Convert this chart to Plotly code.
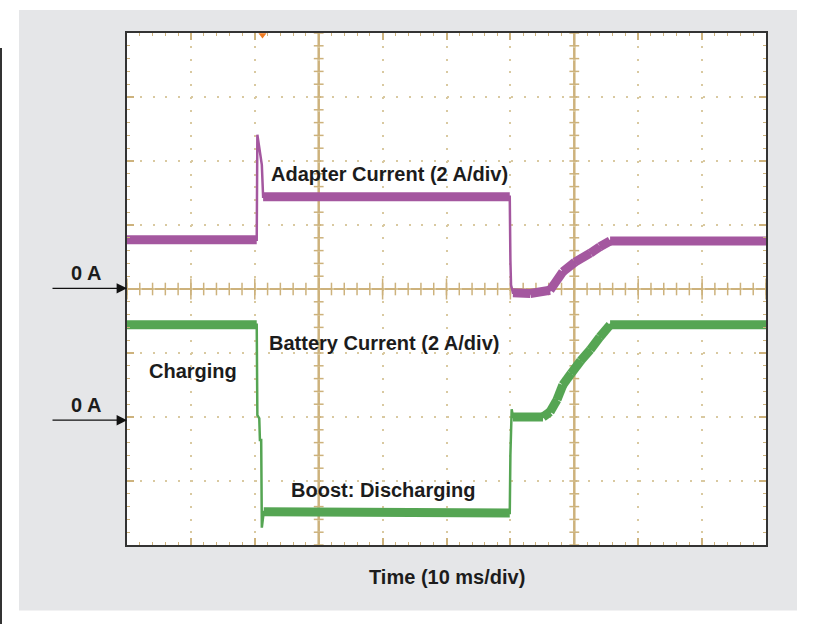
import plotly.graph_objects as go

# ---- data (time and amplitude in oscilloscope divisions) ----
adapter_t = [0, 2.03, 2.04, 2.07, 2.10, 2.11, 2.13, 5.99, 6.00, 6.01, 6.04, 6.31, 6.62, 6.82, 7.01, 7.25, 7.40, 7.56, 10.0]
adapter_y = [4.77, 4.77, 6.41, 6.17, 6.02, 5.94, 5.44, 5.44, 4.45, 4.06, 3.94, 3.93, 3.98, 4.27, 4.42, 4.56, 4.66, 4.75, 4.75]

battery_t = [0, 2.03, 2.04, 2.07, 2.08, 2.10, 2.11, 2.14, 5.99, 6.00, 6.02, 6.04, 6.51, 6.62, 6.73, 6.82, 6.95, 7.10, 7.25, 7.40, 7.56, 10.0]
battery_y = [3.44, 3.44, 2.03, 1.98, 1.64, 1.64, 0.27, 0.52, 0.50, 1.41, 2.12, 2.00, 2.00, 2.08, 2.27, 2.50, 2.68, 2.88, 3.05, 3.25, 3.44, 3.44]

cursor_x = [3, 7]
center_y = 4
zero_marks = [4.01, 1.95]

labels = ["Adapter Current (2 A/div)", "Battery Current (2 A/div)", "Charging", "Boost: Discharging"]
label_x = [2.22, 2.19, 0.31, 2.54]
label_y = [5.80, 3.16, 2.72, 0.86]

PURPLE = "#a4579f"
GREEN = "#55a553"
TAN = "#cdb27c"
DOT = "#d9c9a0"
TXT = "#1c1c1c"
FONT = "Liberation Sans, Arial, sans-serif"
FS = 20


def thick_parts(t, y, min_dx=0.05):
    xs, ys = [], []
    for i in range(len(t) - 1):
        if t[i + 1] - t[i] > min_dx:
            xs += [t[i], t[i + 1], None]
            ys += [y[i], y[i + 1], None]
    return xs, ys


fig = go.Figure()

# center axis tick marks
minor = [round(k * 0.2, 2) for k in range(51)]
fig.add_trace(go.Scatter(x=minor, y=[center_y] * len(minor), mode="markers",
                         marker=dict(symbol="line-ns", size=9, line=dict(width=1.5, color=TAN)),
                         hoverinfo="skip", showlegend=False))
fig.add_trace(go.Scatter(x=list(range(11)), y=[center_y] * 11, mode="markers",
                         marker=dict(symbol="line-ns", size=15, line=dict(width=1.5, color=TAN)),
                         hoverinfo="skip", showlegend=False))
vminor = [round(k * 0.2, 2) for k in range(41)]
for cx in cursor_x:
    fig.add_trace(go.Scatter(x=[cx] * len(vminor), y=vminor, mode="markers",
                             marker=dict(symbol="line-ew", size=7, line=dict(width=1.5, color=TAN)),
                             hoverinfo="skip", showlegend=False))

# waveforms: thin full trace + thick plateau band
for t, y, c in [(adapter_t, adapter_y, PURPLE), (battery_t, battery_y, GREEN)]:
    fig.add_trace(go.Scatter(x=t, y=y, mode="lines", line=dict(color=c, width=2.5),
                             hoverinfo="skip", showlegend=False))
    tx, ty = thick_parts(t, y)
    fig.add_trace(go.Scatter(x=tx, y=ty, mode="lines", line=dict(color=c, width=9),
                             hoverinfo="skip", showlegend=False, connectgaps=False))

# trigger marker
fig.add_trace(go.Scatter(x=[2.12], y=[7.97], mode="markers", cliponaxis=False,
                         marker=dict(symbol="triangle-down", size=7, color="#f07a20"),
                         hoverinfo="skip", showlegend=False))

shapes = [
    # gray panel
    dict(type="rect", xref="paper", yref="paper", x0=(19 - 127) / 639, x1=(797 - 127) / 639,
         y0=(545 - 610.5) / 512, y1=(545 - 10) / 512, fillcolor="#e5e6e8", line=dict(width=0), layer="below"),
    # white plot area
    dict(type="rect", xref="paper", yref="paper", x0=0, x1=1, y0=0, y1=1,
         fillcolor="white", line=dict(width=0), layer="below"),
    # left page edge line
    dict(type="line", xref="paper", yref="paper", x0=(1 - 127) / 639, x1=(1 - 127) / 639,
         y0=(545 - 48) / 512, y1=(545 - 624) / 512, line=dict(color="#333333", width=2)),
    # center line
    dict(type="line", xref="x", yref="y", x0=0, x1=10, y0=center_y, y1=center_y,
         line=dict(color=TAN, width=2), layer="below"),
]
for cx in cursor_x:
    shapes.append(dict(type="line", xref="x", yref="y", x0=cx, x1=cx, y0=0, y1=8,
                       line=dict(color=TAN, width=2.5), layer="below"))

annotations = []
for txt, lx, ly in zip(labels, label_x, label_y):
    annotations.append(dict(x=lx, y=ly, xref="x", yref="y", text="<b>" + txt + "</b>",
                            showarrow=False, xanchor="left", yanchor="middle",
                            font=dict(family=FONT, size=FS, color=TXT)))
for zy in zero_marks:
    annotations.append(dict(x=0, y=zy / 8, xref="paper", yref="paper", text="", showarrow=True,
                            ax=-76, ay=0, arrowhead=2, arrowsize=1.6, arrowwidth=1.3,
                            arrowcolor="#111111", standoff=0))
    annotations.append(dict(x=(86 - 127) / 639, y=(zy + 0.24) / 8, xref="paper", yref="paper",
                            text="<b>0 A</b>", showarrow=False, xanchor="center", yanchor="middle",
                            font=dict(family=FONT, size=FS, color=TXT)))
annotations.append(dict(x=0.5, y=(545 - 577) / 512, xref="paper", yref="paper",
                        text="<b>Time (10 ms/div)</b>", showarrow=False,
                        xanchor="center", yanchor="middle",
                        font=dict(family=FONT, size=FS, color=TXT)))

axis_common = dict(showgrid=True, gridcolor=DOT, gridwidth=2, zeroline=False,
                   showline=True, linecolor="#333333", linewidth=2, mirror="ticks",
                   ticks="inside", ticklen=7, tickcolor=TAN, tickwidth=1.5,
                   showticklabels=False, fixedrange=True)

fig.update_layout(
    width=815, height=624,
    margin=dict(l=127, r=49, t=33, b=79),
    paper_bgcolor="white", plot_bgcolor="rgba(0,0,0,0)",
    shapes=shapes, annotations=annotations,
    xaxis=dict(range=[0, 10], dtick=1, griddash="2px,10.78px",
               minor=dict(dtick=0.2, ticks="inside", ticklen=3, tickcolor=TAN, tickwidth=1.2, showgrid=False),
               **axis_common),
    yaxis=dict(range=[0, 8], dtick=1, griddash="2px,10.8px",
               minor=dict(dtick=0.2, ticks="inside", ticklen=3, tickcolor=TAN, tickwidth=1.2, showgrid=False),
               **axis_common),
)

fig.write_html("out.html")
